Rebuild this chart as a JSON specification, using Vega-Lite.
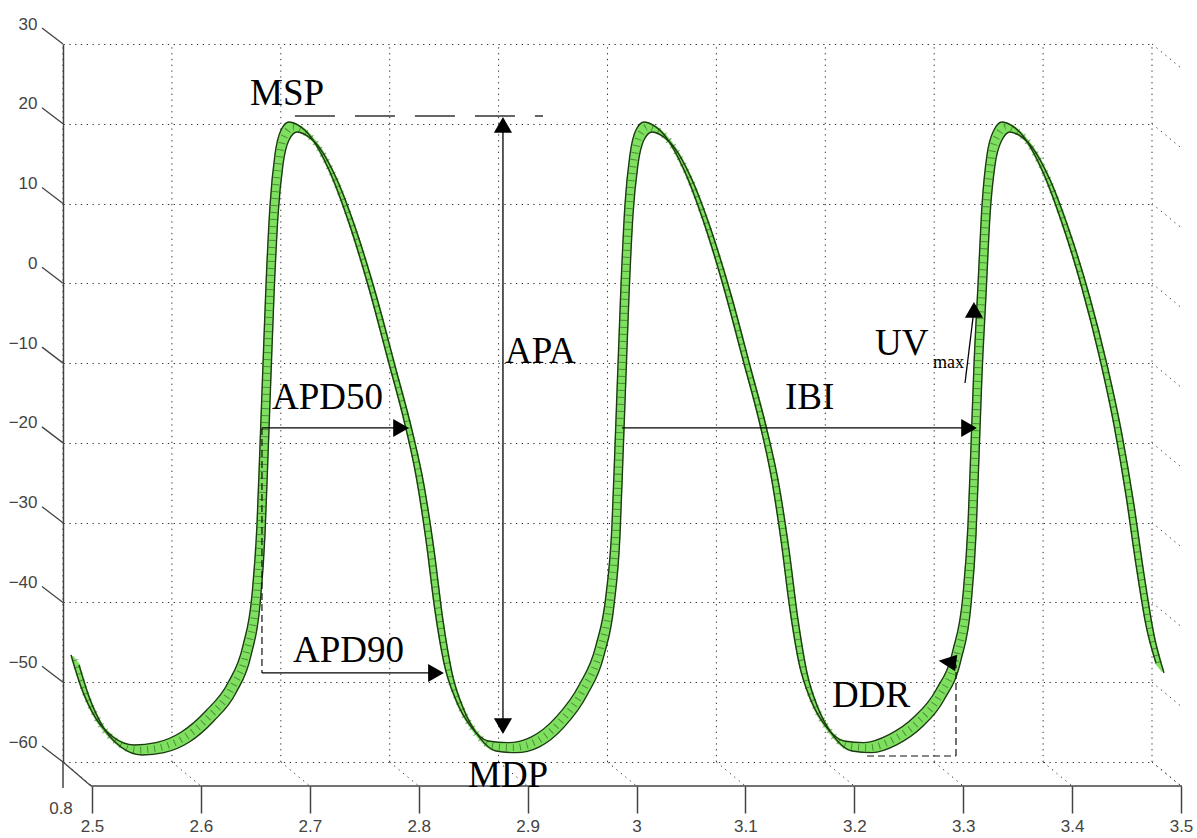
{
  "$schema": "https://vega.github.io/schema/vega-lite/v6.json",
  "width": 1089,
  "height": 718,
  "autosize": "none",
  "padding": {"left": 63, "top": 44, "right": 45, "bottom": 76},
  "background": "white",
  "config": {"view": {"stroke": null}},
  "datasets": {
    "ap": [
      {"time": 2.511, "voltage": -47.2}, {"time": 2.5202, "voltage": -51.2}, {"time": 2.534, "voltage": -55.2},
      {"time": 2.5496, "voltage": -57.5}, {"time": 2.5689, "voltage": -58.5}, {"time": 2.5891, "voltage": -58.2},
      {"time": 2.612, "voltage": -56.9}, {"time": 2.635, "voltage": -54.2}, {"time": 2.6552, "voltage": -50.7},
      {"time": 2.669, "voltage": -46.0}, {"time": 2.6772, "voltage": -39.7}, {"time": 2.6818, "voltage": -30.9},
      {"time": 2.6846, "voltage": -20.9}, {"time": 2.6873, "voltage": -10.9}, {"time": 2.6901, "voltage": -0.8},
      {"time": 2.6938, "voltage": 9.2}, {"time": 2.6983, "voltage": 15.5}, {"time": 2.7039, "voltage": 18.6},
      {"time": 2.7112, "voltage": 19.6}, {"time": 2.7195, "voltage": 19.2}, {"time": 2.7314, "voltage": 17.7},
      {"time": 2.7479, "voltage": 13.6}, {"time": 2.7654, "voltage": 7.3}, {"time": 2.7837, "voltage": -0.8},
      {"time": 2.8021, "voltage": -10.2}, {"time": 2.8168, "voltage": -17.8}, {"time": 2.8278, "voltage": -24.7},
      {"time": 2.837, "voltage": -32.8}, {"time": 2.8452, "voltage": -41.6}, {"time": 2.8535, "voltage": -48.2},
      {"time": 2.8646, "voltage": -52.9}, {"time": 2.8783, "voltage": -56.2}, {"time": 2.8939, "voltage": -58.0},
      {"time": 2.9123, "voltage": -58.2}, {"time": 2.9334, "voltage": -57.5}, {"time": 2.9564, "voltage": -55.0},
      {"time": 2.9775, "voltage": -51.0}, {"time": 2.9931, "voltage": -46.0}, {"time": 3.0023, "voltage": -39.7},
      {"time": 3.0078, "voltage": -30.9}, {"time": 3.0106, "voltage": -20.9}, {"time": 3.0133, "voltage": -10.9},
      {"time": 3.0161, "voltage": -0.8}, {"time": 3.0197, "voltage": 9.2}, {"time": 3.0243, "voltage": 15.5},
      {"time": 3.0298, "voltage": 18.6}, {"time": 3.0372, "voltage": 19.6}, {"time": 3.0455, "voltage": 19.2},
      {"time": 3.0574, "voltage": 17.7}, {"time": 3.0739, "voltage": 13.6}, {"time": 3.0914, "voltage": 7.3},
      {"time": 3.1097, "voltage": -0.8}, {"time": 3.1281, "voltage": -10.2}, {"time": 3.1428, "voltage": -17.8},
      {"time": 3.1538, "voltage": -24.7}, {"time": 3.163, "voltage": -32.8}, {"time": 3.1713, "voltage": -41.6},
      {"time": 3.1795, "voltage": -48.2}, {"time": 3.1905, "voltage": -52.9}, {"time": 3.2043, "voltage": -56.2},
      {"time": 3.2208, "voltage": -58.0}, {"time": 3.2392, "voltage": -58.2}, {"time": 3.2622, "voltage": -57.2},
      {"time": 3.2851, "voltage": -55.0}, {"time": 3.3053, "voltage": -51.6}, {"time": 3.3209, "voltage": -46.6},
      {"time": 3.3301, "voltage": -39.7}, {"time": 3.3347, "voltage": -30.9}, {"time": 3.3375, "voltage": -20.9},
      {"time": 3.3402, "voltage": -10.9}, {"time": 3.3439, "voltage": -0.8}, {"time": 3.3476, "voltage": 9.2},
      {"time": 3.3522, "voltage": 15.5}, {"time": 3.3586, "voltage": 18.6}, {"time": 3.3659, "voltage": 19.6},
      {"time": 3.3742, "voltage": 19.2}, {"time": 3.3861, "voltage": 17.7}, {"time": 3.4026, "voltage": 13.6},
      {"time": 3.4201, "voltage": 7.3}, {"time": 3.4385, "voltage": -0.8}, {"time": 3.455, "voltage": -9.6},
      {"time": 3.4688, "voltage": -18.4}, {"time": 3.4798, "voltage": -27.2}, {"time": 3.489, "voltage": -35.9},
      {"time": 3.4982, "voltage": -43.5}, {"time": 3.5073, "voltage": -48.2}
    ],
    "ticksX": [
      {"t": 2.5}, {"t": 2.6}, {"t": 2.7}, {"t": 2.8}, {"t": 2.9}, {"t": 3.0},
      {"t": 3.1}, {"t": 3.2}, {"t": 3.3}, {"t": 3.4}, {"t": 3.5}
    ],
    "ticksY": [
      {"v": -60}, {"v": -50}, {"v": -40}, {"v": -30}, {"v": -20},
      {"v": -10}, {"v": 0}, {"v": 10}, {"v": 20}, {"v": 30}
    ],
    "shafts": [
      {"name": "APD50", "x1": 2.6827, "x2": 2.8104, "y1": -18.13, "y2": -18.13},
      {"name": "IBI", "x1": 3.0133, "x2": 3.332, "y1": -18.13, "y2": -18.13},
      {"name": "APD90", "x1": 2.6827, "x2": 2.8425, "y1": -48.84, "y2": -48.84},
      {"name": "APA", "x1": 2.904, "x2": 2.904, "y1": 19.85, "y2": -55.49},
      {"name": "UVmax", "x1": 3.3283, "x2": 3.3365, "y1": -12.49, "y2": -3.34}
    ],
    "dashes": [
      {"name": "APD ref", "x1": 2.6827, "x2": 2.6827, "y1": -18.13, "y2": -48.84},
      {"name": "DDR base", "x1": 3.2383, "x2": 3.32, "y1": -59.25, "y2": -59.25},
      {"name": "DDR rise", "x1": 3.32, "x2": 3.32, "y1": -59.25, "y2": -47.8}
    ],
    "msp": [{"x1": 2.713, "x2": 2.9408, "y1": 20.97, "y2": 20.97}],
    "heads": [
      {"name": "APD50", "time": 2.8104, "voltage": -18.13, "direction": "right"},
      {"name": "IBI", "time": 3.332, "voltage": -18.13, "direction": "right"},
      {"name": "APD90", "time": 2.8425, "voltage": -48.84, "direction": "right"},
      {"name": "APA top", "time": 2.904, "voltage": 19.85, "direction": "up"},
      {"name": "APA bottom", "time": 2.904, "voltage": -55.49, "direction": "down"},
      {"name": "UVmax", "time": 3.3365, "voltage": -3.34, "direction": "up"},
      {"name": "DDR", "time": 3.3145, "voltage": -47.46, "direction": "upleft"}
    ],
    "labels": [
      {"label": "MSP", "time": 2.6717, "voltage": 22.35},
      {"label": "APD50", "time": 2.6919, "voltage": -15.8},
      {"label": "APA", "time": 2.9059, "voltage": -10.0},
      {"label": "IBI", "time": 3.163, "voltage": -15.8},
      {"label": "APD90", "time": 2.7112, "voltage": -47.46},
      {"label": "MDP", "time": 2.8719, "voltage": -63.13},
      {"label": "DDR", "time": 3.2062, "voltage": -53.1},
      {"label": "UV", "time": 3.2456, "voltage": -8.98}
    ],
    "sublabels": [
      {"label": "max", "time": 3.2989, "voltage": -10.6}
    ]
  },
  "layer": [
    {
      "data": {"name": "ticksX"},
      "mark": {"type": "rule", "color": "#333", "strokeDash": [1.3, 4.5], "strokeWidth": 1},
      "encoding": {
        "x": {"field": "t", "type": "quantitative", "title": null,
          "scale": {"domain": [2.5, 3.5], "nice": false, "zero": false},
          "axis": {"values": [2.5, 2.6, 2.7, 2.8, 2.9, 3.0, 3.1, 3.2, 3.3, 3.4, 3.5], "format": "~g",
            "offset": 24, "tickOffset": 29, "grid": false, "domain": false, "tickSize": 27,
            "tickWidth": 1.5, "tickColor": "#444", "labelFontSize": 17, "labelColor": "#444",
            "labelFont": "Liberation Sans", "labelPadding": 5, "labelFlush": false}},
        "y": {"datum": -60, "type": "quantitative"},
        "y2": {"datum": 30}
      }
    },
    {
      "data": {"name": "ticksX"},
      "mark": {"type": "rule", "color": "#333", "strokeDash": [1.3, 4.5], "strokeWidth": 1, "x2Offset": 29, "y2Offset": 24},
      "encoding": {
        "x": {"field": "t", "type": "quantitative", "title": null},
        "x2": {"field": "t"},
        "y": {"datum": -60, "type": "quantitative"},
        "y2": {"datum": -60}
      }
    },
    {
      "data": {"name": "ticksY"},
      "mark": {"type": "rule", "color": "#333", "strokeDash": [1.3, 4.5], "strokeWidth": 1, "x2Offset": 29, "y2Offset": 24},
      "encoding": {
        "x": {"datum": 3.5, "type": "quantitative"},
        "x2": {"datum": 3.5},
        "y": {"field": "v", "type": "quantitative", "title": null},
        "y2": {"field": "v"}
      }
    },
    {
      "data": {"name": "ticksY"},
      "mark": {"type": "rule", "color": "#444", "strokeWidth": 1.3, "x2Offset": -21, "y2Offset": -16},
      "encoding": {
        "x": {"datum": 2.5, "type": "quantitative"},
        "x2": {"datum": 2.5},
        "y": {"field": "v", "type": "quantitative", "title": null,
          "scale": {"domain": [-60, 30], "nice": false, "zero": false},
          "axis": {"values": [-60, -50, -40, -30, -20, -10, 0, 10, 20, 30], "grid": true,
            "gridDash": [1.3, 4.5], "gridColor": "#333", "gridWidth": 1, "ticks": false,
            "domain": true, "domainColor": "#444", "domainWidth": 1.5, "labelPadding": 26,
            "labelOffset": -20, "labelFontSize": 17, "labelColor": "#444",
            "labelFont": "Liberation Sans", "labelFlush": false}},
        "y2": {"field": "v"}
      }
    },
    {
      "data": {"values": [{}]},
      "mark": {"type": "rule", "color": "#444", "strokeWidth": 1.5, "xOffset": 28, "x2Offset": 30, "yOffset": 24, "y2Offset": 24},
      "encoding": {
        "x": {"datum": 2.5, "type": "quantitative"},
        "x2": {"datum": 3.5},
        "y": {"datum": -60, "type": "quantitative"},
        "y2": {"datum": -60}
      }
    },
    {
      "data": {"values": [{}]},
      "mark": {"type": "rule", "color": "#444", "strokeWidth": 1.3, "x2Offset": 28, "y2Offset": 24},
      "encoding": {
        "x": {"datum": 2.5, "type": "quantitative"},
        "x2": {"datum": 2.5},
        "y": {"datum": -60, "type": "quantitative"},
        "y2": {"datum": -60}
      }
    },
    {
      "data": {"values": [{}]},
      "mark": {"type": "rule", "color": "#444", "strokeWidth": 1.5, "y2Offset": 26},
      "encoding": {
        "x": {"datum": 2.5, "type": "quantitative"},
        "y": {"datum": -60, "type": "quantitative"},
        "y2": {"datum": -60}
      }
    },
    {
      "data": {"values": [{}]},
      "mark": {"type": "text", "text": "0.8", "font": "Liberation Sans", "fontSize": 17, "color": "#444", "dx": -2, "dy": 47},
      "encoding": {
        "x": {"datum": 2.5, "type": "quantitative"},
        "y": {"datum": -60, "type": "quantitative"}
      }
    },
    {
      "data": {"name": "ap"},
      "mark": {"type": "line", "interpolate": "monotone", "color": "#7fe060", "strokeWidth": 3, "xOffset": -3, "yOffset": -3.8},
      "encoding": {"x": {"field": "time", "type": "quantitative", "title": null}, "y": {"field": "voltage", "type": "quantitative", "title": null}}
    },
    {
      "data": {"name": "ap"},
      "mark": {"type": "line", "interpolate": "monotone", "color": "#7fe060", "strokeWidth": 3, "xOffset": -2, "yOffset": -2.5},
      "encoding": {"x": {"field": "time", "type": "quantitative", "title": null}, "y": {"field": "voltage", "type": "quantitative", "title": null}}
    },
    {
      "data": {"name": "ap"},
      "mark": {"type": "line", "interpolate": "monotone", "color": "#7fe060", "strokeWidth": 3, "xOffset": -1, "yOffset": -1.3},
      "encoding": {"x": {"field": "time", "type": "quantitative", "title": null}, "y": {"field": "voltage", "type": "quantitative", "title": null}}
    },
    {
      "data": {"name": "ap"},
      "mark": {"type": "line", "interpolate": "monotone", "color": "#7fe060", "strokeWidth": 3},
      "encoding": {"x": {"field": "time", "type": "quantitative", "title": null}, "y": {"field": "voltage", "type": "quantitative", "title": null}}
    },
    {
      "data": {"name": "ap"},
      "mark": {"type": "line", "interpolate": "monotone", "color": "#7fe060", "strokeWidth": 3, "xOffset": 1, "yOffset": 1.3},
      "encoding": {"x": {"field": "time", "type": "quantitative", "title": null}, "y": {"field": "voltage", "type": "quantitative", "title": null}}
    },
    {
      "data": {"name": "ap"},
      "mark": {"type": "line", "interpolate": "monotone", "color": "#7fe060", "strokeWidth": 3, "xOffset": 2, "yOffset": 2.5},
      "encoding": {"x": {"field": "time", "type": "quantitative", "title": null}, "y": {"field": "voltage", "type": "quantitative", "title": null}}
    },
    {
      "data": {"name": "ap"},
      "mark": {"type": "line", "interpolate": "monotone", "color": "#7fe060", "strokeWidth": 3, "xOffset": 3, "yOffset": 3.8},
      "encoding": {"x": {"field": "time", "type": "quantitative", "title": null}, "y": {"field": "voltage", "type": "quantitative", "title": null}}
    },
    {
      "data": {"name": "ap"},
      "mark": {"type": "line", "interpolate": "monotone", "color": "#1e3a14", "strokeWidth": 7, "strokeDash": [1, 6], "opacity": 0.5},
      "encoding": {"x": {"field": "time", "type": "quantitative", "title": null}, "y": {"field": "voltage", "type": "quantitative", "title": null}}
    },
    {
      "data": {"name": "ap"},
      "mark": {"type": "line", "interpolate": "monotone", "color": "#1e3a14", "strokeWidth": 1.4, "xOffset": -4, "yOffset": -5},
      "encoding": {"x": {"field": "time", "type": "quantitative", "title": null}, "y": {"field": "voltage", "type": "quantitative", "title": null}}
    },
    {
      "data": {"name": "ap"},
      "mark": {"type": "line", "interpolate": "monotone", "color": "#1e3a14", "strokeWidth": 1.4, "xOffset": 4, "yOffset": 5},
      "encoding": {"x": {"field": "time", "type": "quantitative", "title": null}, "y": {"field": "voltage", "type": "quantitative", "title": null}}
    },
    {
      "data": {"name": "msp"},
      "mark": {"type": "rule", "color": "#333", "strokeWidth": 1.4, "strokeDash": [40, 20]},
      "encoding": {
        "x": {"field": "x1", "type": "quantitative", "title": null}, "x2": {"field": "x2"},
        "y": {"field": "y1", "type": "quantitative", "title": null}, "y2": {"field": "y2"}
      }
    },
    {
      "data": {"name": "dashes"},
      "mark": {"type": "rule", "color": "#111", "strokeWidth": 1.2, "strokeDash": [7, 4]},
      "encoding": {
        "x": {"field": "x1", "type": "quantitative", "title": null}, "x2": {"field": "x2"},
        "y": {"field": "y1", "type": "quantitative", "title": null}, "y2": {"field": "y2"}
      }
    },
    {
      "data": {"name": "shafts"},
      "mark": {"type": "rule", "color": "#000", "strokeWidth": 1.3},
      "encoding": {
        "x": {"field": "x1", "type": "quantitative", "title": null}, "x2": {"field": "x2"},
        "y": {"field": "y1", "type": "quantitative", "title": null}, "y2": {"field": "y2"}
      }
    },
    {
      "data": {"name": "heads"},
      "transform": [{"filter": "datum.direction == 'right'"}],
      "mark": {"type": "point", "shape": "triangle-right", "filled": true, "color": "#000", "opacity": 1, "size": 330},
      "encoding": {"x": {"field": "time", "type": "quantitative", "title": null}, "y": {"field": "voltage", "type": "quantitative", "title": null}}
    },
    {
      "data": {"name": "heads"},
      "transform": [{"filter": "datum.direction == 'up'"}],
      "mark": {"type": "point", "shape": "triangle-up", "filled": true, "color": "#000", "opacity": 1, "size": 330},
      "encoding": {"x": {"field": "time", "type": "quantitative", "title": null}, "y": {"field": "voltage", "type": "quantitative", "title": null}}
    },
    {
      "data": {"name": "heads"},
      "transform": [{"filter": "datum.direction == 'down'"}],
      "mark": {"type": "point", "shape": "triangle-down", "filled": true, "color": "#000", "opacity": 1, "size": 330},
      "encoding": {"x": {"field": "time", "type": "quantitative", "title": null}, "y": {"field": "voltage", "type": "quantitative", "title": null}}
    },
    {
      "data": {"name": "heads"},
      "transform": [{"filter": "datum.direction == 'upleft'"}],
      "mark": {"type": "point", "shape": "M-1,-0.1L0.64,-0.64L0.45,0.82Z", "filled": true, "color": "#000", "opacity": 1, "size": 520},
      "encoding": {"x": {"field": "time", "type": "quantitative", "title": null}, "y": {"field": "voltage", "type": "quantitative", "title": null}}
    },
    {
      "data": {"name": "labels"},
      "mark": {"type": "text", "font": "Liberation Serif", "fontSize": 37, "color": "#000", "align": "left", "baseline": "alphabetic"},
      "encoding": {
        "x": {"field": "time", "type": "quantitative", "title": null},
        "y": {"field": "voltage", "type": "quantitative", "title": null},
        "text": {"field": "label"}
      }
    },
    {
      "data": {"name": "sublabels"},
      "mark": {"type": "text", "font": "Liberation Serif", "fontSize": 18, "color": "#000", "align": "left", "baseline": "alphabetic"},
      "encoding": {
        "x": {"field": "time", "type": "quantitative", "title": null},
        "y": {"field": "voltage", "type": "quantitative", "title": null},
        "text": {"field": "label"}
      }
    }
  ]
}
